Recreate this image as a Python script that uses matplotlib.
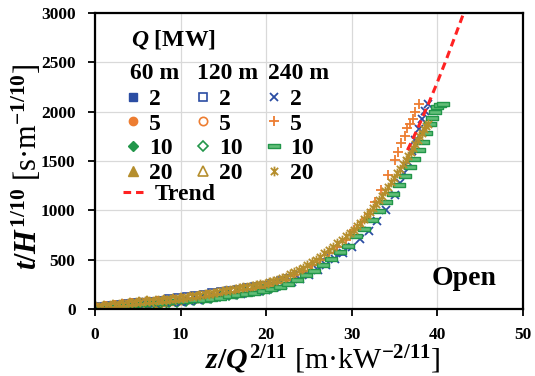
import matplotlib.pyplot as plt
import numpy as np
from matplotlib.path import Path

# fonts: bold Times-like serif everywhere
plt.rcParams['font.family'] = 'Liberation Serif'
plt.rcParams['font.weight'] = 'bold'
plt.rcParams['mathtext.fontset'] = 'custom'
plt.rcParams['mathtext.rm'] = 'Liberation Serif:bold'
plt.rcParams['mathtext.it'] = 'Liberation Serif:italic:bold'
plt.rcParams['mathtext.bf'] = 'Liberation Serif:bold'

# ---- data: x = z/Q^(2/11), y = t/H^(1/10) ----
# H = 60 m
x_60_2 = [0.5, 1.5, 2.5, 3.5, 4.5, 5.5, 6.5, 7.5, 8.5, 9.5, 10.5, 11.5, 12.5, 13.5, 14.5]
y_60_2 = [22, 33, 43, 52, 61, 68, 75, 82, 90, 98, 107, 117, 128, 140, 154]
x_60_5 = [0.4, 1.4, 2.4, 3.4, 4.4, 5.4, 6.4, 7.4, 8.4, 9.4, 10.4, 11.4, 12.4]
y_60_5 = [11, 22, 32, 41, 50, 58, 65, 72, 79, 87, 96, 106, 117]
x_60_10 = [0.3, 1.3, 2.3, 3.3, 4.3, 5.3, 6.3, 7.3, 8.3, 9.3, 10.3]
y_60_10 = [2, 13, 23, 33, 42, 49, 56, 63, 70, 78, 87]
x_60_20 = [0.2, 1.2, 2.2, 3.2, 4.2, 5.2, 6.2, 7.2, 8.2, 9.2]
y_60_20 = [14, 25, 35, 45, 54, 61, 68, 75, 83, 91]

# H = 120 m
x_120_2 = [0.7, 1.7, 2.7, 3.7, 4.7, 5.7, 6.7, 7.7, 8.7, 9.7, 10.7, 11.7, 12.7, 13.7, 14.7,
           15.7, 16.7, 17.7, 18.7, 19.7, 20.7, 21.7, 22.7, 23.7, 24.7, 25.7, 26.7, 27.7, 28.7]
y_120_2 = [20, 30, 40, 49, 57, 65, 75, 86, 100, 112, 124, 134, 145, 158, 172,
           184, 196, 209, 222, 236, 254, 280, 305, 335, 370, 410, 465, 525, 590]
x_120_5 = [0.9, 1.9, 2.9, 3.9, 4.9, 5.9, 6.9, 7.9, 8.9, 9.9, 10.9, 11.9, 12.9, 13.9, 14.9,
           15.9, 16.9, 17.9, 18.9, 19.9, 20.9, 21.9, 22.9, 23.9, 24.9]
y_120_5 = [22, 32, 42, 51, 59, 66, 73, 80, 88, 96, 106, 116, 128, 141, 155,
           167, 179, 192, 205, 219, 241, 270, 306, 349, 396]
x_120_10 = [0.6, 1.6, 2.6, 3.6, 4.6, 5.6, 6.6, 7.6, 8.6, 9.6, 10.6, 11.6, 12.6, 13.6, 14.6,
            15.6, 16.6, 17.6, 18.6, 19.6, 20.6, 21.6]
y_120_10 = [2, 9, 19, 28, 37, 44, 51, 58, 66, 74, 83, 93, 104, 116, 130,
            143, 155, 168, 181, 195, 213, 240]
x_120_20 = [0.1, 1.1, 2.1, 3.1, 4.1, 5.1, 6.1, 7.1, 8.1, 9.1, 10.1, 11.1, 12.1, 13.1, 14.1,
            15.1, 16.1, 17.1, 18.1, 19.1]
y_120_20 = [23, 34, 44, 54, 63, 71, 78, 85, 92, 100, 108, 118, 128, 140, 153,
            167, 179, 191, 204, 217]

# H = 240 m
x_240_2 = [0, 1, 2, 3, 4, 5, 6, 7, 8, 9, 10, 11, 12, 13, 14, 15, 16, 17, 18, 19, 20,
           21, 22, 23, 24, 25, 26, 27, 28, 29, 30, 31, 32, 33, 34, 35.0, 35.6, 36.1,
           36.6, 37.0, 37.4, 37.8, 38.2, 38.6, 38.9]
y_240_2 = [3, 13, 23, 33, 42, 50, 57, 64, 71, 73, 75, 83, 92, 104, 117, 131, 143, 155, 168, 181, 196,
           218, 248, 275, 303, 346, 392, 448, 503, 565, 633, 705, 790, 890, 1000, 1160, 1275, 1380,
           1490, 1600, 1710, 1820, 1930, 2010, 2078]
x_240_5 = [0.3, 1.3, 2.3, 3.3, 4.3, 5.3, 6.3, 7.3, 8.3, 9.3, 10.3, 11.3, 12.3, 13.3, 14.3,
           15.3, 16.3, 17.3, 18.3, 19.3, 20.3, 21.3, 22.3, 23.3, 24.3, 25.3, 26.3, 27.3, 28.3, 29.3,
           30.3, 31.2, 32.0, 32.7, 33.4, 34.2, 35.0, 35.4, 35.8, 36.2, 36.5, 36.8, 37.1, 37.4, 37.8]
y_240_5 = [15, 29, 39, 48, 57, 64, 71, 78, 86, 94, 105, 115, 126, 138, 151,
           165, 176, 189, 202, 217, 236, 262, 298, 343, 390, 443, 500, 563, 630, 700,
           800, 880, 960, 1080, 1206, 1358, 1510, 1590, 1679, 1755, 1831, 1880, 1930, 2000, 2078]
x_240_10 = [0.6, 1.6, 2.6, 3.6, 4.6, 5.6, 6.6, 7.6, 8.6, 9.6, 10.6, 11.6, 12.6, 13.6, 14.6,
            15.6, 16.6, 17.6, 18.6, 19.6, 20.6, 21.6, 22.6, 23.6, 24.6, 25.6, 26.6, 27.6, 28.6, 29.6,
            30.5, 31.4, 32.3, 33.2, 34.0, 34.8, 35.5, 36.2, 36.8, 37.3, 37.8, 38.3, 38.7, 39.1,
            39.4, 39.7, 40.0, 40.3, 40.6]
y_240_10 = [3, 14, 24, 33, 42, 49, 56, 63, 70, 76, 83, 88, 94, 101, 115,
            128, 140, 153, 166, 180, 198, 225, 258, 296, 340, 390, 446, 506, 573, 643,
            735, 810, 900, 990, 1080, 1170, 1260, 1350, 1440, 1520, 1610, 1690, 1780, 1870,
            1940, 2000, 2045, 2065, 2078]
x_240_20 = [0.3, 0.8, 1.3, 1.8, 2.3, 2.8, 3.3, 3.8, 4.3, 4.8, 5.3, 5.8, 6.3, 6.8, 7.3, 7.8,
            8.3, 8.8, 9.3, 9.8, 10.3, 10.8, 11.3, 11.8, 12.3, 12.8, 13.3, 13.8, 14.3, 14.8,
            15.3, 15.8, 16.3, 16.8, 17.3, 17.8, 18.3, 18.8, 19.3, 19.8, 20.3, 20.8, 21.3, 21.8,
            22.3, 22.8, 23.3, 23.8, 24.3, 24.8, 25.3, 25.8, 26.3, 26.8, 27.3, 27.8, 28.3, 28.8,
            29.3, 29.8, 30.2, 30.6, 31.0, 31.4, 31.8, 32.1, 32.5, 32.8, 33.2, 33.5, 33.9, 34.2,
            34.6, 34.9, 35.3, 35.6, 36.0, 36.3, 36.6, 36.9, 37.2, 37.4, 37.7, 37.9, 38.2, 38.4,
            38.7, 38.9]
y_240_20 = [22, 28, 33, 38, 43, 48, 54, 58, 64, 67, 72, 76, 80, 84, 88, 92,
            96, 100, 105, 110, 116, 122, 129, 135, 143, 150, 157, 164, 172, 180,
            189, 195, 203, 210, 218, 225, 233, 240, 249, 258, 269, 281, 295, 312,
            329, 350, 372, 394, 418, 444, 472, 500, 531, 563, 596, 630, 665, 699,
            735, 773, 805, 840, 875, 910, 950, 985, 1025, 1065, 1105, 1150, 1195, 1240,
            1285, 1330, 1375, 1420, 1465, 1510, 1550, 1590, 1630, 1670, 1710, 1750, 1785, 1820,
            1850, 1880]

# trend curve
trend_x = [36.5, 37, 38, 39, 40, 41, 42, 43.2]
trend_y = [1610, 1700, 1890, 2090, 2300, 2520, 2750, 3030]

heat = ['2', '5', '10', '20']

# colours
c_blue = '#2B4DA3'
c_orange = '#ED7D31'
c_green = '#22964A'
c_gold = '#B58E2D'

# custom markers
dash_mk = Path([(-1, -0.3), (1, -0.3), (1, 0.3), (-1, 0.3), (-1, -0.3)],
               [Path.MOVETO, Path.LINETO, Path.LINETO, Path.LINETO, Path.CLOSEPOLY])
star_mk = Path([(0, -1), (0, 1), (-0.75, -0.75), (0.75, 0.75), (-0.75, 0.75), (0.75, -0.75)],
               [Path.MOVETO, Path.LINETO, Path.MOVETO, Path.LINETO, Path.MOVETO, Path.LINETO])

fig, ax = plt.subplots(figsize=(5.35, 3.76), dpi=100)
fig.subplots_adjust(left=0.1776, right=0.9776, bottom=0.1782, top=0.9654)

handles = []
# 60 m : filled
handles += ax.plot(x_60_2, y_60_2, ls='none', marker='s', ms=5.5, color=c_blue, mec=c_blue)
handles += ax.plot(x_60_5, y_60_5, ls='none', marker='o', ms=6, color=c_orange, mec=c_orange)
handles += ax.plot(x_60_10, y_60_10, ls='none', marker='D', ms=5.5, color=c_green, mec=c_green)
handles += ax.plot(x_60_20, y_60_20, ls='none', marker='^', ms=6.5, color=c_gold, mec=c_gold)
# 120 m : open
handles += ax.plot(x_120_2, y_120_2, ls='none', marker='s', ms=5.5, mfc='white', mec=c_blue, mew=1.2)
handles += ax.plot(x_120_5, y_120_5, ls='none', marker='o', ms=6, mfc='white', mec=c_orange, mew=1.2)
handles += ax.plot(x_120_10, y_120_10, ls='none', marker='D', ms=5.5, mfc='white', mec=c_green, mew=1.2)
handles += ax.plot(x_120_20, y_120_20, ls='none', marker='^', ms=6.5, mfc='white', mec=c_gold, mew=1.2)
# 240 m : line markers
handles += ax.plot(x_240_2, y_240_2, ls='none', marker='x', ms=6, mec=c_blue, mew=1.3)
handles += ax.plot(x_240_5, y_240_5, ls='none', marker='+', ms=7.5, mec=c_orange, mew=1.3)
handles += ax.plot(x_240_10, y_240_10, ls='none', marker=dash_mk, ms=8.5, mfc='#62BE78', mec=c_green, mew=1.0)
handles += ax.plot(x_240_20, y_240_20, ls='none', marker=star_mk, ms=7, mec=c_gold, mew=1.3)

trend, = ax.plot(trend_x, trend_y, color='#FF2222', lw=2.2, ls=(0, (2.5, 1.6)), zorder=5)

ax.set_xlim(0, 50)
ax.set_ylim(0, 3000)
ax.set_xticks([0, 10, 20, 30, 40, 50])
ax.set_yticks([0, 500, 1000, 1500, 2000, 2500, 3000])
ax.grid(color='#d9d9d9', lw=0.9)
ax.set_axisbelow(True)
for s in ax.spines.values():
    s.set_linewidth(1.6)
    s.set_color('black')
ax.tick_params(direction='out', length=5, width=1.3, labelsize=12.5)
ax.tick_params(axis='x', pad=8)
ax.tick_params(axis='y', pad=9)

ax.set_xlabel(r'$z/Q^{2/11}$ [m·kW$^{\mathrm{-2/11}}$]', fontsize=21.5, labelpad=0, x=0.533)
ax.set_ylabel(r'$t/H^{1/10}$ [s·m$^{\mathrm{-1/10}}$]', fontsize=22, labelpad=-2, y=0.48)

ax.text(0.939, 0.081, 'Open', transform=ax.transAxes, ha='right', va='baseline', fontsize=20)

# legend: title row, height header, 3 columns of markers, trend
ax.text(0.084, 0.909, r'$Q$ [MW]', transform=ax.transAxes, ha='left', va='center', fontsize=17)
for xx, h in zip([0.082, 0.238, 0.404], ['60 m', '120 m', '240 m']):
    ax.text(xx, 0.794, h, transform=ax.transAxes, ha='left', va='center', fontsize=17)

leg = ax.legend(handles, heat * 3, ncol=3, loc='upper left', bbox_to_anchor=(0.061, 0.745),
                frameon=False, fontsize=17, handlelength=1.0, handletextpad=0.18,
                columnspacing=0.8, labelspacing=0.13, borderpad=0, borderaxespad=0)
ax.add_artist(leg)
ax.legend([trend], ['Trend'], loc='upper left', bbox_to_anchor=(0.065, 0.423),
          frameon=False, fontsize=17, handlelength=0.85, handletextpad=0.5,
          borderpad=0, borderaxespad=0)

fig.savefig('out.png', dpi=100)
